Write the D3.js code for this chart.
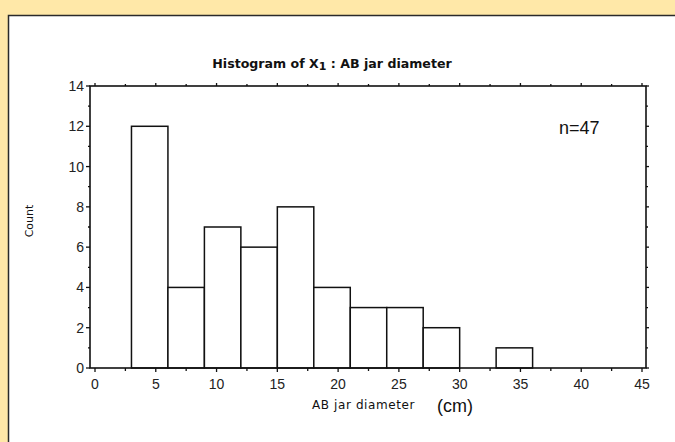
<!DOCTYPE html>
<html>
<head>
<meta charset="utf-8">
<script src="https://cdn.jsdelivr.net/npm/d3@7"></script>
<style>
  html, body { margin: 0; padding: 0; background: #ffe8a8; overflow: hidden; }
  svg { display: block; }
</style>
</head>
<body>
<svg id="chart" width="675" height="442"></svg>
<script>
// bins of width 3 (left edge) and their counts
const binStarts = [3, 6, 9, 12, 15, 18, 21, 24, 27, 30, 33];
const counts = [12, 4, 7, 6, 8, 4, 3, 3, 2, 0, 1];
const binWidth = 3;
const xTicks = [0, 5, 10, 15, 20, 25, 30, 35, 40, 45];
const yTicks = [0, 2, 4, 6, 8, 10, 12, 14];
const sampleNote = "n=47";

const W = 675, H = 442;
const svg = d3.select('#chart');

// white panel, only its left and top edges show
svg.append('rect')
  .attr('x', 8).attr('y', 15)
  .attr('width', W - 8).attr('height', H - 15)
  .attr('fill', '#fff');
svg.append('path')
  .attr('d', `M8.5,${H} V15.5 H${W}`)
  .attr('fill', 'none')
  .attr('stroke', '#2a2a2a')
  .attr('stroke-width', 1.5);

const x = d3.scaleLinear().domain([0, 45]).range([95, 642]);
const y = d3.scaleLinear().domain([0, 14]).range([368, 86]);

const plotL = 90, plotR = 646, plotT = y(14), plotB = y(0);

// bars
svg.selectAll('.bar')
  .data(binStarts.map((s, i) => ({ s, c: counts[i] })).filter(d => d.c > 0))
  .enter()
  .append('rect')
  .attr('class', 'bar')
  .attr('x', d => x(d.s))
  .attr('y', d => y(d.c))
  .attr('width', d => x(d.s + binWidth) - x(d.s))
  .attr('height', d => y(0) - y(d.c))
  .attr('fill', '#fff')
  .attr('stroke', '#111')
  .attr('stroke-width', 1.5);

// frame
svg.append('rect')
  .attr('x', plotL).attr('y', plotT)
  .attr('width', plotR - plotL).attr('height', plotB - plotT)
  .attr('fill', 'none')
  .attr('stroke', '#111')
  .attr('stroke-width', 1.6);

const tickColor = '#111';
const xMinor = d3.range(0, 45.01, 2.5);
const yMinor = d3.range(0, 14.01, 1);

// bottom ticks
svg.selectAll('.xb')
  .data(xMinor).enter().append('line')
  .attr('x1', d => x(d)).attr('x2', d => x(d))
  .attr('y1', plotB).attr('y2', d => plotB + (d % 5 === 0 ? 4 : 3))
  .attr('stroke', tickColor).attr('stroke-width', 1.3);

// top ticks
svg.selectAll('.xt')
  .data(xMinor).enter().append('line')
  .attr('x1', d => x(d)).attr('x2', d => x(d))
  .attr('y1', plotT).attr('y2', d => plotT - (d % 5 === 0 ? 3 : 2))
  .attr('stroke', tickColor).attr('stroke-width', 1.3);

// left ticks
svg.selectAll('.yl')
  .data(yMinor).enter().append('line')
  .attr('x1', plotL).attr('x2', d => plotL - (d % 2 === 0 ? 4 : 2))
  .attr('y1', d => y(d)).attr('y2', d => y(d))
  .attr('stroke', tickColor).attr('stroke-width', 1.3);

// right ticks
svg.selectAll('.yr')
  .data(yMinor).enter().append('line')
  .attr('x1', plotR).attr('x2', d => plotR + (d % 2 === 0 ? 3 : 2))
  .attr('y1', d => y(d)).attr('y2', d => y(d))
  .attr('stroke', tickColor).attr('stroke-width', 1.3);

// tick labels
svg.selectAll('.xl')
  .data(xTicks).enter().append('text')
  .attr('x', d => x(d)).attr('y', 389)
  .attr('text-anchor', 'middle')
  .style('font-family', 'Liberation Sans, Arial, sans-serif')
  .style('font-size', '14px')
  .attr('fill', '#222')
  .text(d => d);

svg.selectAll('.ylab')
  .data(yTicks).enter().append('text')
  .attr('x', 84).attr('y', d => y(d) + 5)
  .attr('text-anchor', 'end')
  .style('font-family', 'Liberation Sans, Arial, sans-serif')
  .style('font-size', '14px')
  .attr('fill', '#222')
  .text(d => d);

// title
const title = svg.append('text')
  .attr('x', 332).attr('y', 68)
  .attr('text-anchor', 'middle')
  .style('font-family', 'DejaVu Sans, sans-serif')
  .style('font-weight', 'bold')
  .style('font-size', '12.6px')
  .attr('fill', '#111');
title.append('tspan').text('Histogram of X');
title.append('tspan').attr('dy', 2).style('font-size', '11px').text('1');
title.append('tspan').attr('dy', -2).text(' : AB jar diameter');

// axis titles
svg.append('text')
  .attr('transform', 'translate(33,221) rotate(-90)')
  .attr('text-anchor', 'middle')
  .style('font-family', 'DejaVu Sans, sans-serif')
  .style('font-size', '11px')
  .attr('fill', '#111')
  .text('Count');

svg.append('text')
  .attr('x', 312).attr('y', 409)
  .style('font-family', 'DejaVu Sans, sans-serif')
  .style('font-size', '12px')
  .style('letter-spacing', '0.6px')
  .attr('fill', '#111')
  .text('AB jar diameter');

svg.append('text')
  .attr('x', 437).attr('y', 412)
  .style('font-family', 'Liberation Sans, Arial, sans-serif')
  .style('font-size', '18px')
  .attr('fill', '#111')
  .text('(cm)');

svg.append('text')
  .attr('x', 559).attr('y', 134)
  .style('font-family', 'Liberation Sans, Arial, sans-serif')
  .style('font-size', '18px')
  .attr('fill', '#111')
  .text(sampleNote);
</script>
</body>
</html>
